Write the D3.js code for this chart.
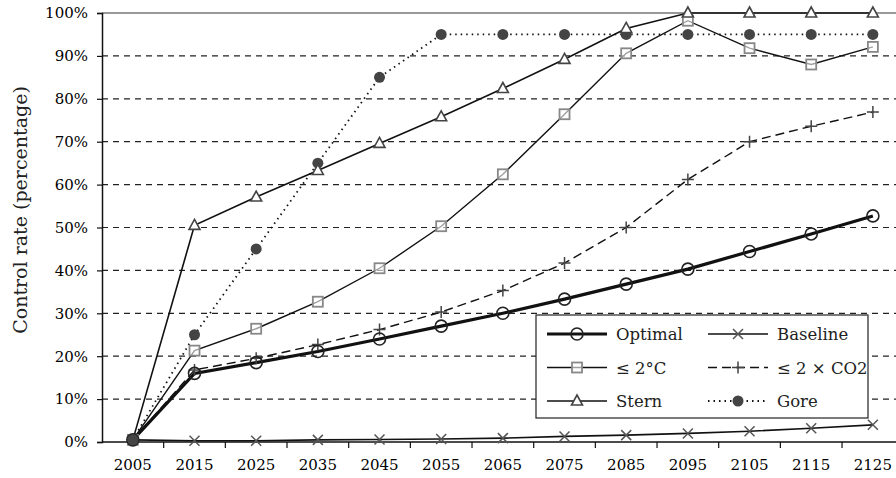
<!DOCTYPE html>
<html><head><meta charset="utf-8">
<script src="https://cdn.jsdelivr.net/npm/d3@7"></script>
<style>body{margin:0;background:#fff}svg{display:block}</style>
</head><body><svg id="c" width="896" height="478"></svg>
<script>
const years = ["2005","2015","2025","2035","2045","2055","2065","2075","2085","2095","2105","2115","2125"];
const yTicks = [0,10,20,30,40,50,60,70,80,90,100];
const optimal  = [0.5,16,18.5,21.1,24,27,30,33.3,36.8,40.3,44.4,48.5,52.7];
const baseline = [0.5,0.3,0.3,0.5,0.6,0.7,0.9,1.3,1.6,2.0,2.5,3.2,4.0];
const twoC     = [0.5,21.3,26.4,32.7,40.5,50.3,62.4,76.4,90.6,98.2,91.8,88,92.1];
const twoCO2   = [0.5,16.8,19.5,22.7,26.2,30.3,35.3,41.7,50,61.2,70,73.6,76.9];
const stern    = [0.5,50.5,57.1,63.3,69.6,75.8,82.4,89.2,96.4,100,100,100,100];
const gore     = [0.5,25,45,65,85,95,95,95,95,95,95,95,95];
const seriesNames = ["Optimal","Baseline","≤ 2°C","≤ 2 × CO2","Stern","Gore"];

(function(){
const svg = d3.select("#c");
const left=102, topY=13, bottom=442, band=61.67;
const x = d3.scaleBand().domain(years).range([left, left+band*years.length]);
const y = d3.scaleLinear().domain([0,100]).range([bottom, topY]);
const font = "DejaVu Serif";

// gridlines
yTicks.forEach(t=>{
  if(t===0) return;
  svg.append("line").attr("x1",left).attr("x2",896).attr("y1",y(t)).attr("y2",y(t))
    .attr("stroke", t===100?"#999":"#222").attr("stroke-width", t===100?2:1.2)
    .attr("stroke-dasharray", t===100?null:"6,5");
});

// axes
const yAxis = d3.axisLeft(y).tickValues(yTicks).tickFormat(d=>d+"%").tickSize(5).tickPadding(9);
const gy = svg.append("g").attr("transform",`translate(${left},0)`).call(yAxis);
gy.attr("font-family",font);
gy.select(".domain").attr("stroke","#111").attr("stroke-width",1.5);
gy.selectAll(".tick line").attr("stroke","#111").attr("stroke-width",1.2);
gy.selectAll("text").style("font-family",font).attr("font-size",15).attr("fill","#000");

const xAxis = d3.axisBottom(x).tickSize(0).tickPadding(17);
const gx = svg.append("g").attr("transform",`translate(0,${bottom})`).call(xAxis);
gx.attr("font-family",font);
gx.select(".domain").remove();
gx.append("line").attr("x1",left).attr("x2",896).attr("y1",0).attr("y2",0).attr("stroke","#111").attr("stroke-width",1.5);
years.forEach((yr,i)=>{
  const xx = x(yr)+x.bandwidth();
  gx.append("line").attr("x1",xx).attr("x2",xx).attr("y1",0).attr("y2",6).attr("stroke","#111").attr("stroke-width",1.2);
});
gx.selectAll("text").style("font-family",font).attr("font-size",15).attr("fill","#000");

svg.append("text").attr("transform",`translate(27,210) rotate(-90)`)
  .attr("text-anchor","middle").attr("font-family",font).attr("font-size",19).attr("fill","#222")
  .text("Control rate (percentage)");

const cx = i => x(years[i]) + x.bandwidth()/2;
const line = d3.line().x((d,i)=>cx(i)).y(d=>y(d));

function marker(g, type, px, py){
  if(type==="circleOpen") g.append("circle").attr("cx",px).attr("cy",py).attr("r",6).attr("fill","none").attr("stroke","#222").attr("stroke-width",1.6);
  if(type==="x") { const s=5; g.append("path").attr("d",`M${px-s},${py-s}L${px+s},${py+s}M${px-s},${py+s}L${px+s},${py-s}`).attr("stroke","#555").attr("stroke-width",1.5); }
  if(type==="square") g.append("rect").attr("x",px-5).attr("y",py-5).attr("width",10).attr("height",10).attr("fill","#fff").attr("fill-opacity",0.6).attr("stroke","#888").attr("stroke-width",1.8);
  if(type==="plus") { const s=6; g.append("path").attr("d",`M${px-s},${py}L${px+s},${py}M${px},${py-s}L${px},${py+s}`).attr("stroke","#444").attr("stroke-width",1.5); }
  if(type==="tri") g.append("path").attr("d",`M${px},${py-6}L${px+5.5},${py+4}L${px-5.5},${py+4}Z`).attr("fill","#fff").attr("stroke","#444").attr("stroke-width",1.6);
  if(type==="dot") g.append("circle").attr("cx",px).attr("cy",py).attr("r",5.5).attr("fill","#444");
}

const series = [
  {name:seriesNames[1], data:baseline, w:1.6, dash:null, m:"x"},
  {name:seriesNames[2], data:twoC, w:1.4, dash:null, m:"square"},
  {name:seriesNames[3], data:twoCO2, w:1.4, dash:"9,5", m:"plus"},
  {name:seriesNames[0], data:optimal, w:3.2, dash:null, m:"circleOpen"},
  {name:seriesNames[5], data:gore, w:1.8, dash:"1.5,4", m:"dot"},
  {name:seriesNames[4], data:stern, w:1.6, dash:null, m:"tri"},
];
series.forEach(s=>{
  svg.append("path").attr("d",line(s.data)).attr("fill","none").attr("stroke","#111")
    .attr("stroke-width",s.w).attr("stroke-dasharray",s.dash);
});
series.forEach(s=>{
  const g = svg.append("g");
  s.data.forEach((d,i)=>{ if(i===0 && s.m==="tri") return; marker(g,s.m,cx(i),y(d)); });
});

// legend
const lg = svg.append("g");
lg.append("rect").attr("x",536).attr("y",315).attr("width",332).attr("height",103).attr("fill","#fff").attr("stroke","#222").attr("stroke-width",1.2);
const legendItems = [
  {name:seriesNames[0], w:3.2, dash:null, m:"circleOpen", col:0,row:0},
  {name:seriesNames[1], w:1.6, dash:null, m:"x", col:1,row:0},
  {name:seriesNames[2], w:1.4, dash:null, m:"square", col:0,row:1},
  {name:seriesNames[3], w:1.4, dash:"9,5", m:"plus", col:1,row:1},
  {name:seriesNames[4], w:1.6, dash:null, m:"tri", col:0,row:2},
  {name:seriesNames[5], w:1.8, dash:"1.5,4", m:"dot", col:1,row:2},
];
legendItems.forEach(it=>{
  const x0 = it.col===0?547:708, yy = 334 + it.row*33.5;
  lg.append("line").attr("x1",x0).attr("x2",x0+60).attr("y1",yy).attr("y2",yy).attr("stroke","#111").attr("stroke-width",it.w).attr("stroke-dasharray",it.dash);
  marker(lg,it.m,x0+30,yy);
  lg.append("text").attr("x",x0+69).attr("y",yy+6).attr("font-family",font).attr("font-size",16.5).attr("fill","#222").text(it.name);
});
})();
</script></body></html>
